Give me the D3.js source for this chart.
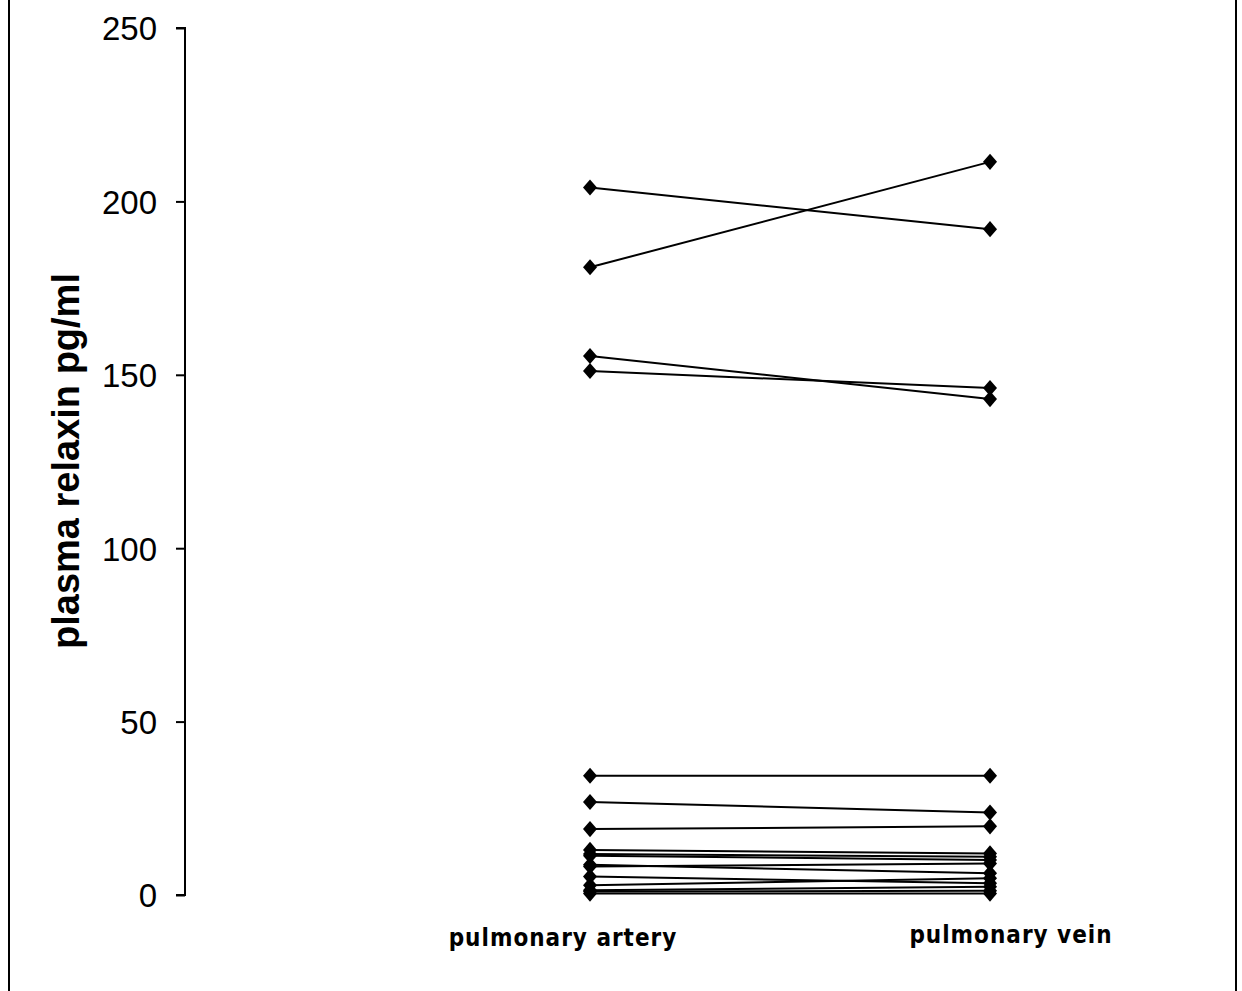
<!DOCTYPE html>
<html><head><meta charset="utf-8">
<script src="https://cdn.jsdelivr.net/npm/d3@7"></script>
<style>html,body{margin:0;padding:0;background:#fff;}svg{display:block;}</style>
</head><body>
<svg id="chart" width="1242" height="991"></svg>
<script>
const categories = ["pulmonary artery", "pulmonary vein"];
const arteryValues = [204, 181, 155.4, 151.1, 34.4, 26.8, 19, 13, 11.8, 11.3, 8.7, 8.2, 5.3, 2.8, 1.4, 1.0, 0.4];
const veinValues   = [192, 211.4, 143, 146.2, 34.4, 23.8, 19.8, 12, 11, 10.1, 6.3, 9.1, 3.4, 4.8, 2.4, 1.2, 0.4];
const yTicks = [0, 50, 100, 150, 200, 250];
const yLabel = "plasma relaxin pg/ml";

const svg = d3.select("#chart");
const W = 1242, H = 991;

// frame
svg.append("line").attr("x1", 9).attr("x2", 9).attr("y1", 0).attr("y2", H).attr("stroke", "#000").attr("stroke-width", 2);
svg.append("line").attr("x1", 1236).attr("x2", 1236).attr("y1", 0).attr("y2", H).attr("stroke", "#000").attr("stroke-width", 2);

const x = d3.scalePoint().domain(categories).range([590, 990]);
const y = d3.scaleLinear().domain([0, 250]).range([895, 28]);

// y axis
const yAxis = d3.axisLeft(y).tickValues(yTicks).tickSize(9).tickPadding(19);
const gy = svg.append("g").attr("transform", "translate(185,0)").call(yAxis);
gy.select(".domain").attr("stroke", "#000").attr("stroke-width", 2).attr("d", `M-9,${y(250)}H0V${y(0)}H-9`);
gy.selectAll(".tick line").attr("stroke", "#000").attr("stroke-width", 2);
gy.selectAll(".tick text").attr("fill", "#000")
  .style("font-family", "'Liberation Sans', Arial, sans-serif").style("font-size", "33px").attr("dy", "0.36em");

// y label
svg.append("text")
  .attr("transform", `translate(79,${(272+650)/2}) rotate(-90)`)
  .attr("text-anchor", "middle")
  .style("font-family", "'Liberation Sans', Arial, sans-serif")
  .style("font-size", "38px").style("font-weight", "bold")
  .text(yLabel);

// category labels
const labelOffset = {"pulmonary artery": -27, "pulmonary vein": 21};
const labelY = {"pulmonary artery": 946, "pulmonary vein": 943};
svg.selectAll(".cat").data(categories).enter().append("text")
  .attr("x", d => x(d) + labelOffset[d])
  .attr("y", d => labelY[d])
  .attr("text-anchor", "middle")
  .style("font-family", "'Liberation Sans Narrow', 'DejaVu Sans Condensed', sans-serif")
  .style("font-size", "24px").style("font-weight", "bold").style("letter-spacing", "1px")
  .text(d => d);

// lines
const pairs = arteryValues.map((a, i) => [a, veinValues[i]]);
const line = d3.line().x((d, i) => x(categories[i])).y(d => y(d));
svg.selectAll(".pair").data(pairs).enter().append("path")
  .attr("d", d => line(d)).attr("fill", "none").attr("stroke", "#000").attr("stroke-width", 2);

// markers (diamond, slightly taller than wide)
const diamondType = {
  draw(ctx, size) {
    const hw = Math.sqrt(size) / 2, hh = hw * 1.15;
    ctx.moveTo(0, -hh); ctx.lineTo(hw, 0); ctx.lineTo(0, hh); ctx.lineTo(-hw, 0); ctx.closePath();
  }
};
const diamond = d3.symbol().type(diamondType).size(196);
pairs.forEach(p => {
  p.forEach((v, i) => {
    svg.append("path").attr("d", diamond())
      .attr("transform", `translate(${x(categories[i])},${y(v)})`)
      .attr("fill", "#000");
  });
});
</script>
</body></html>
